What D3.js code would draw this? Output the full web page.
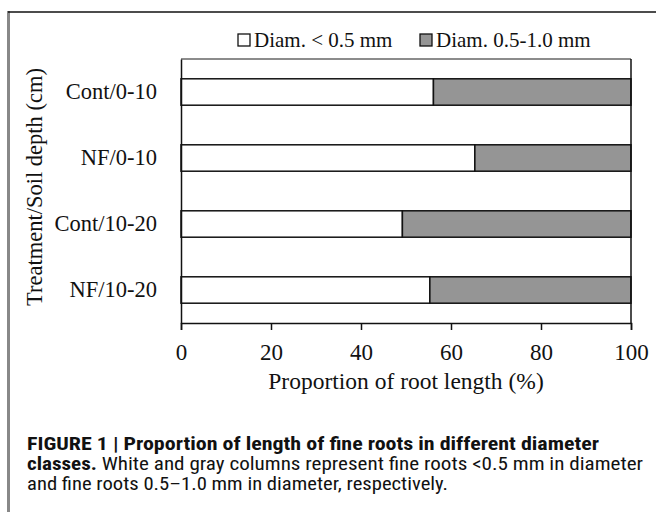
<!DOCTYPE html>
<html>
<head>
<meta charset="utf-8">
<script src="https://cdn.jsdelivr.net/npm/d3@7"></script>
<style>
  body { margin: 0; background: #fff; }
  svg { display: block; }
</style>
</head>
<body>
<div id="chart"></div>
<script>
// data
const categories = ["Cont/0-10", "NF/0-10", "Cont/10-20", "NF/10-20"];
const fineValues = [56.1, 65.3, 49.2, 55.3];          // Diam. < 0.5 mm (%)
const coarseValues = fineValues.map(v => 100 - v);     // Diam. 0.5-1.0 mm (%), remainder to 100
const seriesNames = ["Diam. < 0.5 mm", "Diam. 0.5-1.0 mm"];
const seriesColors = ["#ffffff", "#959595"];
const xTicks = [0, 20, 40, 60, 80, 100];

const W = 656, H = 512;
const margin = { top: 59, right: 25, bottom: 189, left: 181 };
const innerW = W - margin.left - margin.right;
const innerH = H - margin.top - margin.bottom;
const serif = "'Liberation Serif', 'Times New Roman', serif";

const svg = d3.select("#chart").append("svg").attr("width", W).attr("height", H);

// figure frame (left gray rule, top black rule)
svg.append("line").attr("x1", 8.5).attr("x2", 8.5).attr("y1", 11).attr("y2", H)
    .attr("stroke", "#888").attr("stroke-width", 3);
svg.append("line").attr("x1", 8).attr("x2", W).attr("y1", 12).attr("y2", 12)
    .attr("stroke", "#111").attr("stroke-width", 1.5);

const g = svg.append("g").attr("transform", `translate(${margin.left},${margin.top})`);

const x = d3.scaleLinear().domain([0, 100]).range([0, innerW]);
const y = d3.scaleBand().domain(categories).range([0, innerH])
    .paddingInner(0.6).paddingOuter(0.3);

// stacked rows
const rows = categories.map((c, i) => ({ cat: c, parts: [fineValues[i], coarseValues[i]] }));
rows.forEach(r => {
    let start = 0;
    r.parts.forEach((v, k) => {
        g.append("rect")
            .attr("x", x(start))
            .attr("y", y(r.cat))
            .attr("width", x(start + v) - x(start))
            .attr("height", y.bandwidth())
            .attr("fill", seriesColors[k])
            .attr("stroke", "#111")
            .attr("stroke-width", 1.5);
        start += v;
    });
});

// plot box
g.append("line").attr("x1", 0).attr("x2", innerW).attr("y1", 0).attr("y2", 0)
    .attr("stroke", "#666").attr("stroke-width", 1.5);
g.append("line").attr("x1", innerW).attr("x2", innerW).attr("y1", 0).attr("y2", innerH)
    .attr("stroke", "#111").attr("stroke-width", 1.5);

// x axis
const xAxis = g.append("g").attr("transform", `translate(0,${innerH})`)
    .call(d3.axisBottom(x).tickValues(xTicks).tickSize(7).tickPadding(14).tickFormat(d3.format("d")));
xAxis.select(".domain").attr("stroke", "#111").attr("stroke-width", 1.5);
xAxis.selectAll(".tick line").attr("stroke", "#111").attr("stroke-width", 1.5);
xAxis.selectAll("text").attr("font-family", serif).attr("font-size", 23).attr("fill", "#111");

// y axis
const yAxis = g.append("g")
    .call(d3.axisLeft(y).tickSize(0).tickPadding(24));
yAxis.select(".domain").attr("stroke", "#111").attr("stroke-width", 1.5);
yAxis.selectAll("text").attr("font-family", serif).attr("font-size", 22.5).attr("fill", "#111");

// axis titles
svg.append("text")
    .attr("x", margin.left + innerW / 2).attr("y", 389)
    .attr("text-anchor", "middle")
    .attr("font-family", serif).attr("font-size", 23.5).attr("fill", "#111")
    .text("Proportion of root length (%)");

svg.append("text")
    .attr("transform", `translate(42,187) rotate(-90)`)
    .attr("text-anchor", "middle")
    .attr("font-family", serif).attr("font-size", 22.5).attr("fill", "#111")
    .text("Treatment/Soil depth (cm)");

// legend
const legendX = [238, 420];
seriesNames.forEach((name, k) => {
    const lg = svg.append("g").attr("transform", `translate(${legendX[k]},34)`);
    lg.append("rect").attr("width", 12).attr("height", 12)
        .attr("fill", seriesColors[k]).attr("stroke", "#111").attr("stroke-width", 1.3);
    lg.append("text").attr("x", 16).attr("y", 13)
        .attr("font-family", serif).attr("font-size", 21).attr("fill", "#111")
        .text(name);
});

// caption
const capFont = "'Liberation Sans Narrow', 'Roboto Condensed', 'Liberation Sans', Arial, sans-serif";
svg.append("text").attr("x", 27).attr("y", 450)
    .attr("font-family", capFont).attr("font-size", 18).attr("fill", "#111")
    .attr("font-weight", "bold")
    .attr("textLength", 572).attr("lengthAdjust", "spacingAndGlyphs")
    .text("FIGURE 1 | Proportion of length of fine roots in different diameter");

const cap2 = svg.append("text").attr("x", 27).attr("y", 470)
    .attr("font-family", capFont).attr("font-size", 18).attr("fill", "#111")
    .attr("textLength", 616).attr("lengthAdjust", "spacingAndGlyphs");
cap2.append("tspan").attr("font-weight", "bold").text("classes.");
cap2.append("tspan").text(" White and gray columns represent fine roots <0.5 mm in diameter");

svg.append("text").attr("x", 27).attr("y", 490)
    .attr("font-family", capFont).attr("font-size", 18).attr("fill", "#111")
    .attr("textLength", 421).attr("lengthAdjust", "spacingAndGlyphs")
    .text("and fine roots 0.5\u20131.0 mm in diameter, respectively.");
</script>
</body>
</html>
